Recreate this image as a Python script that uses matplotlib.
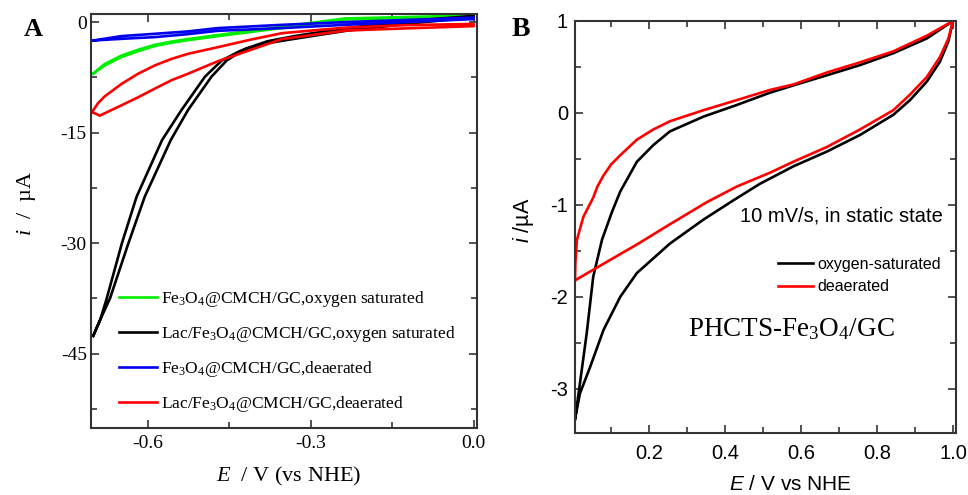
import numpy as np
import matplotlib
matplotlib.use("Agg")
import matplotlib.pyplot as plt
from matplotlib.ticker import MultipleLocator

plt.rcParams['mathtext.fontset'] = 'custom'
plt.rcParams['mathtext.rm'] = 'Liberation Serif'
plt.rcParams['mathtext.it'] = 'Liberation Serif:italic'
plt.rcParams['mathtext.sf'] = 'Liberation Sans:italic'

SERIF = 'Liberation Serif'
SANS = 'Liberation Sans'

# ---- panel A data (E in V vs NHE, i in uA) ----
green_E = [-0.701, -0.680, -0.649, -0.618, -0.588, -0.557, -0.526, -0.471, -0.353, -0.237, 0.0]
green_up_i = [-7.0, -5.7, -4.55, -3.75, -3.1, -2.65, -2.3, -1.75, -0.62, 0.5, 0.9]
green_dn_i = [-7.0, -5.9, -4.75, -3.95, -3.25, -2.8, -2.45, -1.9, -0.8, 0.35, 0.8]

blk_up_E = [-0.701, -0.688, -0.670, -0.636, -0.606, -0.558, -0.526, -0.483, -0.455, -0.420, -0.380, -0.330, -0.270, -0.200, -0.120, 0.0]
blk_up_i = [-42.6, -40.4, -37.5, -30.0, -23.7, -16.0, -11.9, -7.4, -5.2, -3.6, -2.6, -1.9, -1.2, -0.5, 0.15, 0.85]
blk_dn_E = [-0.701, -0.688, -0.676, -0.648, -0.621, -0.574, -0.538, -0.495, -0.464, -0.430, -0.390, -0.350, -0.290, -0.237, -0.120, 0.0]
blk_dn_i = [-42.6, -40.4, -37.5, -30.0, -23.7, -16.0, -11.9, -7.4, -5.2, -3.9, -3.0, -2.5, -1.8, -1.2, -0.2, 0.65]

blue_E = [-0.701, -0.649, -0.588, -0.526, -0.471, -0.353, -0.237, 0.0]
blue_up_i = [-2.5, -1.90, -1.59, -1.26, -0.81, -0.37, 0.0, 0.61]
blue_dn_i = [-2.5, -2.27, -2.04, -1.63, -1.18, -0.81, -0.37, 0.41]

red_up_E = [-0.703, -0.692, -0.680, -0.649, -0.618, -0.588, -0.557, -0.526, -0.471, -0.412, -0.353, -0.237, -0.12, 0.0]
red_up_i = [-12.2, -11.0, -10.1, -8.4, -7.0, -5.9, -5.0, -4.3, -3.4, -2.4, -1.5, -0.75, -0.4, -0.25]
red_dn_E = [-0.703, -0.689, -0.649, -0.618, -0.588, -0.557, -0.526, -0.471, -0.412, -0.353, -0.237, -0.136, 0.0]
red_dn_i = [-12.2, -12.7, -11.3, -10.2, -9.05, -7.9, -7.0, -5.3, -3.8, -2.3, -1.15, -0.88, -0.55]

labels_A = ['Fe$_3$O$_4$@CMCH/GC,oxygen saturated',
            'Lac/Fe$_3$O$_4$@CMCH/GC,oxygen saturated',
            'Fe$_3$O$_4$@CMCH/GC,deaerated',
            'Lac/Fe$_3$O$_4$@CMCH/GC,deaerated']

# ---- panel B data ----
bo_up_E = [0.005, 0.018, 0.036, 0.053, 0.076, 0.102, 0.124, 0.168, 0.211, 0.255, 0.343, 0.431, 0.518, 0.580, 0.668, 0.755, 0.843, 0.931, 1.0]
bo_up_i = [-3.33, -2.94, -2.39, -1.78, -1.38, -1.08, -0.855, -0.53, -0.35, -0.20, -0.04, 0.087, 0.22, 0.30, 0.41, 0.52, 0.65, 0.81, 1.0]
bo_dn_E = [0.005, 0.018, 0.045, 0.080, 0.124, 0.168, 0.255, 0.343, 0.422, 0.492, 0.580, 0.668, 0.755, 0.843, 0.887, 0.931, 0.966, 0.988, 1.0]
bo_dn_i = [-3.33, -3.05, -2.76, -2.36, -2.0, -1.74, -1.42, -1.16, -0.95, -0.77, -0.58, -0.42, -0.24, -0.02, 0.14, 0.34, 0.56, 0.78, 1.0]

rd_up_E = [0.005, 0.006, 0.010, 0.027, 0.053, 0.064, 0.080, 0.100, 0.124, 0.168, 0.211, 0.255, 0.343, 0.431, 0.518, 0.580, 0.668, 0.755, 0.843, 0.931, 1.0]
rd_up_i = [-1.82, -1.63, -1.38, -1.13, -0.92, -0.80, -0.68, -0.56, -0.46, -0.29, -0.18, -0.09, 0.03, 0.14, 0.25, 0.31, 0.44, 0.55, 0.67, 0.84, 1.0]
rd_dn_E = [0.005, 0.080, 0.168, 0.255, 0.352, 0.431, 0.518, 0.580, 0.668, 0.755, 0.843, 0.887, 0.931, 0.966, 0.988, 1.0]
rd_dn_i = [-1.82, -1.64, -1.43, -1.21, -0.97, -0.80, -0.65, -0.53, -0.37, -0.18, 0.03, 0.20, 0.39, 0.61, 0.81, 1.0]

labels_B = ['oxygen-saturated', 'deaerated']


def loop(E_dn, i_dn, E_up, i_up):
    # lower branch left->right, then upper branch back right->left
    return list(E_dn) + list(E_up)[::-1], list(i_dn) + list(i_up)[::-1]


def style_axes(ax, family, size):
    for s in ax.spines.values():
        s.set_color('#333333')
        s.set_linewidth(1.5)
    ax.tick_params(which='both', direction='in', top=True, right=True, color='#333333', width=1.2)
    ax.tick_params(which='major', length=6, labelsize=size)
    ax.tick_params(which='minor', length=4)
    for lab in ax.get_xticklabels() + ax.get_yticklabels():
        lab.set_family(family)


fig = plt.figure(figsize=(9.68, 4.95), dpi=100)
W, H = 968, 495

# ---------------- panel A ----------------
axA = fig.add_axes([91 / W, 1 - 428 / H, (477 - 91) / W, (428 - 14) / H])
x, y = loop(green_E, green_dn_i, green_E, green_up_i)
axA.plot(x, y, color='#00ee00', lw=1.9, label=labels_A[0])
x, y = loop(blk_dn_E, blk_dn_i, blk_up_E, blk_up_i)
axA.plot(x, y, color='black', lw=1.9, label=labels_A[1])
x, y = loop(blue_E, blue_dn_i, blue_E, blue_up_i)
axA.plot(x, y, color='#0000ee', lw=1.9, label=labels_A[2])
x, y = loop(red_dn_E, red_dn_i, red_up_E, red_up_i)
axA.plot(x, y, color='#ff0000', lw=1.9, label=labels_A[3])

axA.set_xlim(-0.705, 0.006)
axA.set_ylim(-55.1, 1.1)
axA.xaxis.set_minor_locator(MultipleLocator(0.15))
axA.yaxis.set_minor_locator(MultipleLocator(7.5))
axA.set_xticks([-0.6, -0.3, 0.0])
axA.set_xticklabels(['-0.6', '-0.3', '0.0'])
axA.set_yticks([0, -15, -30, -45])
axA.set_yticklabels(['0', '-15', '-30', '-45'])
style_axes(axA, SERIF, 14)
axA.tick_params(axis='x', pad=5)
axA.tick_params(axis='y', pad=3)

legA = axA.legend(loc='upper left', bbox_to_anchor=(119 / W, 1 - 289 / H), bbox_transform=fig.transFigure,
                  frameon=False, borderpad=0, borderaxespad=0, handlelength=2.2, handletextpad=0.2,
                  labelspacing=0.87, prop={'family': SERIF, 'size': 12.5})

fig.text(33 / W, 1 - 30 / H, 'A', family=SERIF, weight='bold', fontsize=19, ha='center', va='center')
fig.text(27 / W, 1 - 203 / H, r'$\mathit{i}$  /  µA', family=SERIF, fontsize=16, rotation=90,
         ha='center', va='center')
fig.text(289 / W, 1 - 476 / H, r'$\mathit{E}$  / V (vs NHE)', family=SERIF, fontsize=16,
         ha='center', va='center')

# ---------------- panel B ----------------
axB = fig.add_axes([575 / W, 1 - 433 / H, (956 - 575) / W, (433 - 21) / H])
x, y = loop(bo_dn_E, bo_dn_i, bo_up_E, bo_up_i)
axB.plot(x, y, color='black', lw=1.9, label=labels_B[0])
x, y = loop(rd_dn_E, rd_dn_i, rd_up_E, rd_up_i)
axB.plot(x, y, color='#ff0000', lw=1.9, label=labels_B[1])

axB.set_xlim(0.005, 1.008)
axB.set_ylim(-3.48, 1.0)
axB.set_xticks([0.2, 0.4, 0.6, 0.8, 1.0])
axB.set_xticklabels(['0.2', '0.4', '0.6', '0.8', '1.0'])
axB.xaxis.set_minor_locator(MultipleLocator(0.1))
axB.set_yticks([1, 0, -1, -2, -3])
axB.set_yticklabels(['1', '0', '-1', '-2', '-3'])
axB.yaxis.set_minor_locator(MultipleLocator(0.5))
style_axes(axB, SANS, 14.5)
axB.tick_params(axis='x', pad=8)
axB.tick_params(axis='y', pad=5)

legB = axB.legend(loc='upper left', bbox_to_anchor=(778 / W, 1 - 257 / H), bbox_transform=fig.transFigure,
                  frameon=False, borderpad=0, borderaxespad=0, handlelength=2.2, handletextpad=0.25,
                  labelspacing=0.45, prop={'family': SANS, 'size': 11.5})

fig.text(740 / W, 1 - 216 / H, '10 mV/s, in static state', family=SANS, fontsize=14.5, ha='left', va='center')
fig.text(688 / W, 1 - 336 / H, 'PHCTS-Fe$_3$O$_4$/GC', family=SERIF, fontsize=19.5, ha='left', va='baseline')
fig.text(521 / W, 1 - 30 / H, 'B', family=SERIF, weight='bold', fontsize=20, ha='center', va='center')
fig.text(523 / W, 1 - 220 / H, r'$\mathsf{i}$ /µA', family=SANS, fontsize=15.5, rotation=90,
         ha='center', va='center')
fig.text(790 / W, 1 - 484 / H, r'$\mathsf{E}$ / V vs NHE', family=SANS, fontsize=15, ha='center', va='center')

fig.savefig('out.png', dpi=100)
